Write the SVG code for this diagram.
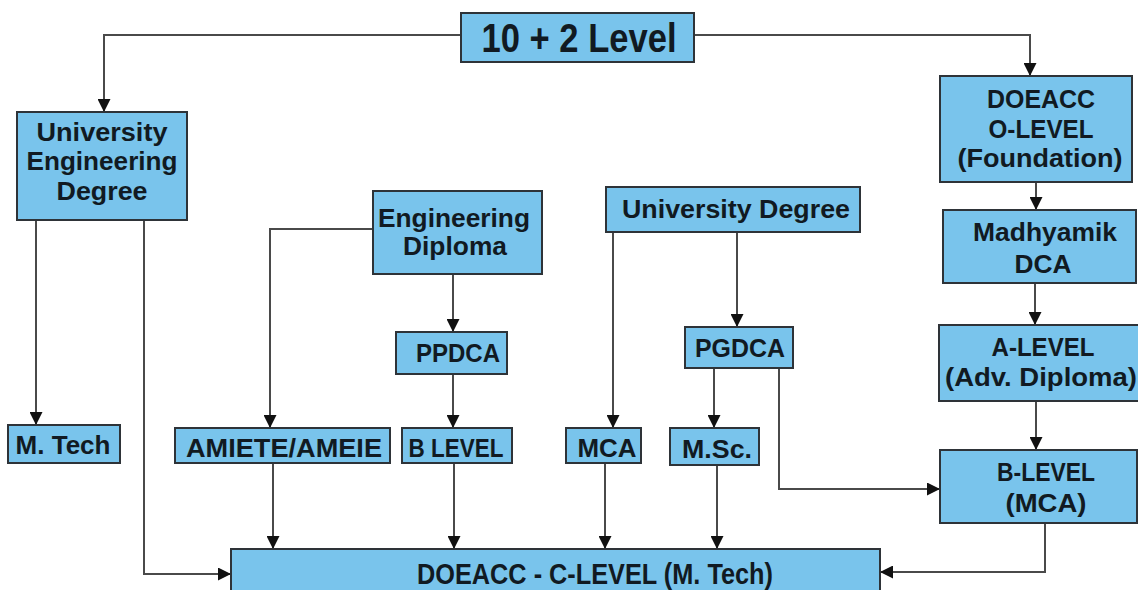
<svg xmlns="http://www.w3.org/2000/svg" width="1138" height="590" viewBox="0 0 1138 590">
<style>
.box{fill:#79c4ec;stroke:#2e3338;stroke-width:2}
.t{font-family:"Liberation Sans",Arial,sans-serif;font-weight:bold;font-size:26px;fill:#111a22;text-anchor:middle}
.c{fill:none;stroke:#4a4a4a;stroke-width:2}
</style>
<defs>
<marker id="ah" markerUnits="userSpaceOnUse" markerWidth="13" markerHeight="13" viewBox="0 0 13 13" refX="13" refY="6.5" orient="auto">
<path d="M0,0 L13,6.5 L0,13 Z" fill="#111"/>
</marker>
</defs>
<rect width="1138" height="590" fill="#ffffff"/>
<g id="connectors">
<path class="c" d="M461,35 H104 V112" marker-end="url(#ah)"/>
<path class="c" d="M694,35 H1030 V76" marker-end="url(#ah)"/>
<path class="c" d="M36,220 V425" marker-end="url(#ah)"/>
<path class="c" d="M144,220 V574 H231" marker-end="url(#ah)"/>
<path class="c" d="M373,229 H270 V428" marker-end="url(#ah)"/>
<path class="c" d="M453,274 V332" marker-end="url(#ah)"/>
<path class="c" d="M453,374 V428" marker-end="url(#ah)"/>
<path class="c" d="M273,463 V549" marker-end="url(#ah)"/>
<path class="c" d="M454,463 V549" marker-end="url(#ah)"/>
<path class="c" d="M613,232 V428" marker-end="url(#ah)"/>
<path class="c" d="M737,232 V327" marker-end="url(#ah)"/>
<path class="c" d="M714,368 V428" marker-end="url(#ah)"/>
<path class="c" d="M779,368 V489 H940" marker-end="url(#ah)"/>
<path class="c" d="M605,463 V549" marker-end="url(#ah)"/>
<path class="c" d="M717,465 V549" marker-end="url(#ah)"/>
<path class="c" d="M1036,182 V210" marker-end="url(#ah)"/>
<path class="c" d="M1035,283 V325" marker-end="url(#ah)"/>
<path class="c" d="M1036,401 V450" marker-end="url(#ah)"/>
<path class="c" d="M1045,523 V572 H880" marker-end="url(#ah)"/>
</g>
<g id="n-102">
<rect class="box" x="461" y="13" width="233" height="49"/>
<text class="t" x="579" y="52" style="font-size:40px" textLength="195" lengthAdjust="spacingAndGlyphs">10 + 2 Level</text>
</g>
<g id="n-ued">
<rect class="box" x="17" y="112" width="170" height="108"/>
<text class="t" x="102" y="141" textLength="131" lengthAdjust="spacingAndGlyphs">University</text>
<text class="t" x="102" y="170" textLength="151" lengthAdjust="spacingAndGlyphs">Engineering</text>
<text class="t" x="102" y="200" textLength="91" lengthAdjust="spacingAndGlyphs">Degree</text>
</g>
<g id="n-olevel">
<rect class="box" x="940" y="76" width="192" height="106"/>
<text class="t" x="1041" y="108" textLength="108" lengthAdjust="spacingAndGlyphs">DOEACC</text>
<text class="t" x="1041" y="138" textLength="105" lengthAdjust="spacingAndGlyphs">O-LEVEL</text>
<text class="t" x="1040" y="167" textLength="165" lengthAdjust="spacingAndGlyphs">(Foundation)</text>
</g>
<g id="n-madhyamik">
<rect class="box" x="943" y="210" width="193" height="73"/>
<text class="t" x="1045" y="241" textLength="144" lengthAdjust="spacingAndGlyphs">Madhyamik</text>
<text class="t" x="1043" y="273" textLength="57" lengthAdjust="spacingAndGlyphs">DCA</text>
</g>
<g id="n-engdip">
<rect class="box" x="373" y="191" width="169" height="83"/>
<text class="t" x="454" y="227" textLength="152" lengthAdjust="spacingAndGlyphs">Engineering</text>
<text class="t" x="455" y="255" textLength="104" lengthAdjust="spacingAndGlyphs">Diploma</text>
</g>
<g id="n-ud">
<rect class="box" x="606" y="187" width="254" height="45"/>
<text class="t" x="736" y="218" textLength="228" lengthAdjust="spacingAndGlyphs">University Degree</text>
</g>
<g id="n-ppdca">
<rect class="box" x="396" y="332" width="111" height="42"/>
<text class="t" x="458" y="362" textLength="84" lengthAdjust="spacingAndGlyphs">PPDCA</text>
</g>
<g id="n-pgdca">
<rect class="box" x="685" y="327" width="108" height="41"/>
<text class="t" x="740" y="357" textLength="90" lengthAdjust="spacingAndGlyphs">PGDCA</text>
</g>
<g id="n-mtech">
<rect class="box" x="8" y="425" width="112" height="38"/>
<text class="t" x="63" y="454" textLength="95" lengthAdjust="spacingAndGlyphs">M. Tech</text>
</g>
<g id="n-amiete">
<rect class="box" x="175" y="428" width="215" height="35"/>
<text class="t" x="284" y="457" textLength="196" lengthAdjust="spacingAndGlyphs">AMIETE/AMEIE</text>
</g>
<g id="n-blevel">
<rect class="box" x="402" y="428" width="110" height="35"/>
<text class="t" x="456" y="457" textLength="95" lengthAdjust="spacingAndGlyphs">B LEVEL</text>
</g>
<g id="n-mca">
<rect class="box" x="566" y="428" width="75" height="35"/>
<text class="t" x="607" y="457" textLength="59" lengthAdjust="spacingAndGlyphs">MCA</text>
</g>
<g id="n-msc">
<rect class="box" x="670" y="428" width="89" height="37"/>
<text class="t" x="717" y="458" textLength="70" lengthAdjust="spacingAndGlyphs">M.Sc.</text>
</g>
<g id="n-alevel">
<rect class="box" x="939" y="325" width="205" height="76"/>
<text class="t" x="1043" y="356" textLength="103" lengthAdjust="spacingAndGlyphs">A-LEVEL</text>
<text class="t" x="1041" y="386" textLength="192" lengthAdjust="spacingAndGlyphs">(Adv. Diploma)</text>
</g>
<g id="n-blevelmca">
<rect class="box" x="940" y="450" width="197" height="73"/>
<text class="t" x="1046" y="481" textLength="98" lengthAdjust="spacingAndGlyphs">B-LEVEL</text>
<text class="t" x="1046" y="512" textLength="81" lengthAdjust="spacingAndGlyphs">(MCA)</text>
</g>
<g id="n-clevel">
<rect class="box" x="231" y="549" width="649" height="55"/>
<text class="t" x="595" y="584" style="font-size:29px" textLength="356" lengthAdjust="spacingAndGlyphs">DOEACC - C-LEVEL (M. Tech)</text>
</g>
</svg>
